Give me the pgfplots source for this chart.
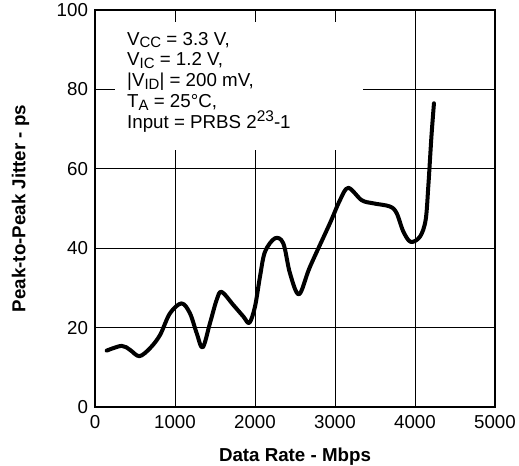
\documentclass[border=0pt]{standalone}
\usepackage{pgfplots}
\pgfplotsset{compat=1.18}
\usepackage{fontspec}
\setmainfont{Liberation Sans}
\newcommand\sub[1]{\raisebox{-2.8bp}{\fontsize{15}{15}\selectfont #1}}
\newcommand\sups[1]{\raisebox{6.5bp}{\fontsize{15.5}{15.5}\selectfont #1}}
\begin{document}
\begin{tikzpicture}
\begin{axis}[
  name=ax,
  scale only axis,
  width=400bp, height=397bp,
  xmin=0, xmax=5000, ymin=0, ymax=100,
  xtick={0,1000,...,5000}, ytick={0,20,...,100},
  /pgf/number format/assume math mode=true,
  /pgf/number format/1000 sep={},
  tick label style={font=\fontsize{18.8}{20}\selectfont},
  xticklabel style={yshift=-4.5bp},
  yticklabel style={xshift=-3.5bp},
  grid=major,
  major grid style={black, line width=0.9bp},
  axis line style={black, line width=2.8bp},
  major tick length=0pt,
  xtick pos=bottom, ytick pos=left,
  xlabel={Data Rate - Mbps},
  label style={font=\fontsize{18.8}{20}\selectfont\bfseries},
  xlabel style={at={(axis description cs:0.5,0)}, anchor=base, yshift=-54.5bp},
]
\fill[white] (axis cs:250,64.7) rectangle (axis cs:3350,97);
\node[anchor=north west, align=left, inner sep=0pt,
      font=\fontsize{18.8}{20.8}\selectfont] at (axis cs:400,94.5)
 {V\sub{CC} = 3.3 V,\\
  V\sub{IC} = 1.2 V,\\
  |V\sub{ID}| = 200 mV,\\
  T\sub{A} = 25\textdegree C,\\
  Input = PRBS 2\sups{23}-1};
\addplot[black, line width=4bp, smooth, tension=0.55, line cap=round, line join=round] coordinates {
(146,14.2) (333,15.4) (437,14.4) (554,12.8) (687,14.8) (812,18.1) (937,23.6)
(1083,26.1) (1187,23.6) (1271,18.6) (1346,15.0) (1437,21.1) (1521,27.0)
(1583,29.0) (1729,25.7) (1854,22.8) (1929,21.2) (2000,25.3) (2062,32.8)
(2125,39.1) (2250,42.5) (2354,41.2) (2437,33.7) (2550,28.4) (2687,35.3)
(2937,46.3) (3062,52.1) (3166,55.2) (3333,52.1) (3479,51.3) (3687,50.5)
(3771,48.8) (3854,44.2) (3946,41.6) (4062,42.9) (4133,47.1) (4166,55.5)
(4187,62.2) (4208,68.9) (4237,76.5)
};
\end{axis}
\node[rotate=90, anchor=center, inner sep=0pt, font=\fontsize{18.8}{20}\selectfont\bfseries]
  at ([xshift=-74.5bp]ax.west) {Peak-to-Peak Jitter - ps};
\pgfresetboundingbox
\path ([xshift=-95bp,yshift=-59bp]ax.south west) rectangle ([xshift=24bp,yshift=10bp]ax.north east);
\end{tikzpicture}
\end{document}
